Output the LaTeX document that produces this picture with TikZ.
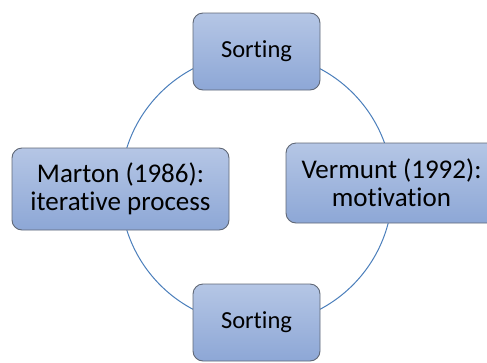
\documentclass[tikz,border=0pt]{standalone}
\usepackage{fontspec}
\setmainfont[Ligatures=NoCommon]{Carlito}
\definecolor{boxtop}{RGB}{181, 198, 229}
\definecolor{boxbottom}{RGB}{141, 167, 214}
\definecolor{boxedge}{RGB}{96, 104, 118}
\definecolor{ringblue}{RGB}{74, 126, 187}

\begin{document}
\begin{tikzpicture}[x=1pt, y=-1pt,
    stagebox/.style={draw=boxedge, line width=0.9pt, rounded corners=10pt,
                     top color=boxtop, bottom color=boxbottom, align=center,
                     inner sep=0pt, font=\fontsize{27}{28}\selectfont},
    sortbox/.style={stagebox, minimum width=127pt, minimum height=77pt,
                    font=\fontsize{24.5}{26}\selectfont}]
            \useasboundingbox (0,0) rectangle (487,362);
            \clip (0,0) rectangle (487,362);
            \coordinate (hub) at (256.5, 189);
            \draw[color=ringblue, line width=1pt] (hub) circle (136pt);
            \node[sortbox]                                            (sorttop)    at (256.5,  51.5) {Sorting};
            \node[stagebox, minimum width=217pt, minimum height=82pt] (marton)     at (120.5, 189.0) {Marton (1986):\\iterative process};
            \node[stagebox, minimum width=211pt, minimum height=80pt] (vermunt)    at (391.5, 183.0) {Vermunt (1992):\\motivation};
            \node[sortbox]                                            (sortbottom) at (256.5, 322.5) {Sorting};
        \end{tikzpicture}
\end{document}
